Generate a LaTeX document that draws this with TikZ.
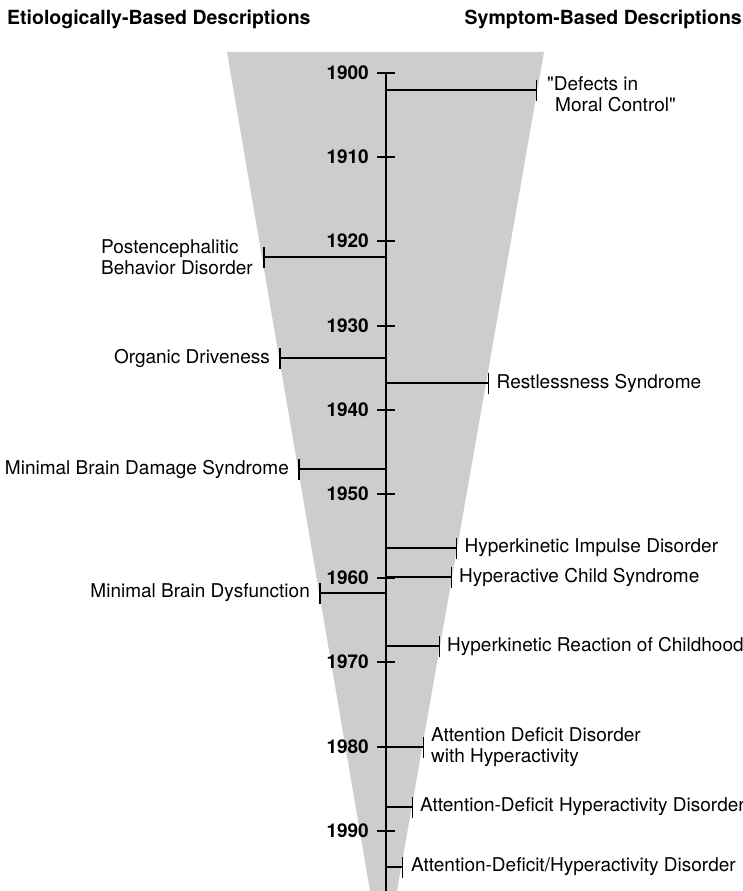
\documentclass[tikz,border=0pt]{standalone}
\usepackage{fontspec}
\setmainfont{TeX Gyre Heros}
\usetikzlibrary{positioning,arrows.meta}
\definecolor{funnelgray}{RGB}{205,205,205}
\tikzset{
  evt/.style={line width=2pt,-{Bar[width=21pt,line width=1.5pt]}},
  lbl/.style={inner sep=0pt,font=\fontsize{19}{21}\selectfont,align=left},
  yearlbl/.style={inner sep=0pt,anchor=east,font=\fontsize{19}{21}\selectfont\bfseries},
  hd/.style={inner sep=0pt,font=\fontsize{19.5}{22}\selectfont\bfseries}
}

\begin{document}
\begin{tikzpicture}[x=1pt,y=-1pt]
  \useasboundingbox (0,0) rectangle (743,891);
  % 漏斗形底色
  \fill[funnelgray] (227,52) -- (544,52) -- (397,891) -- (370,891) -- cycle;
  % 两侧标题
  \node[hd,anchor=base west] (hdleft) at (7,25) {Etiologically-Based Descriptions};
  \node[hd,anchor=base east] (hdright) at (742,25) {Symptom-Based Descriptions};
  % 时间轴
  \coordinate (top) at (386,73);
  \coordinate (bot) at (386,891);
  \draw[line width=2pt] (top) -- (bot);
  % 刻度与年份
  \foreach \yr/\y in {1900/73,1910/157,1920/241,1930/326,1940/410,
                      1950/494,1960/578,1970/662,1980/747,1990/831} {
    \draw[line width=2pt] (377,\y) -- (395,\y);
    \node[yearlbl] (y\yr) at (369,\y) {\yr};
  }
  % 右侧：症状描述
  \coordinate (s1902) at (537,90);
  \coordinate (s1937) at (489,383);
  \coordinate (s1957) at (457,548);
  \coordinate (s1960) at (452,577);
  \coordinate (s1968) at (440,646);
  \coordinate (s1980) at (424,747);
  \coordinate (s1987) at (413,807);
  \coordinate (s1994) at (403,867);
  \foreach \s in {s1902,s1937,s1957,s1960,s1968,s1980,s1987,s1994}
    \draw[evt] (top |- \s) -- (\s);
  \node[lbl,right=10pt of s1902,yshift=-4pt] (t1902) {\textquotedbl Defects in\\\hspace*{8pt}Moral Control\textquotedbl};
  \node[lbl,right=7.5pt of s1937] (t1937) {Restlessness Syndrome};
  \node[lbl,right=7.5pt of s1957] (t1957) {Hyperkinetic Impulse Disorder};
  \node[lbl,right=7pt of s1960] (t1960) {Hyperactive Child Syndrome};
  \node[lbl,right=7pt of s1968] (t1968) {Hyperkinetic Reaction of Childhood};
  \node[lbl,right=7pt of s1980] (t1980) {Attention Deficit Disorder\\with Hyperactivity};
  \node[lbl,right=7pt of s1987] (t1987) {Attention-Deficit Hyperactivity Disorder};
  \node[lbl,right=8pt of s1994] (t1994) {Attention-Deficit/Hyperactivity Disorder};
  % 左侧：病因描述
  \coordinate (e1922) at (263,257);
  \coordinate (e1934) at (279,358);
  \coordinate (e1947) at (298,469);
  \coordinate (e1962) at (319,593);
  \foreach \e in {e1922,e1934,e1947,e1962}
    \draw[evt] (top |- \e) -- (\e);
  \node[lbl,left=10pt of e1922] (t1922) {Postencephalitic\\Behavior Disorder};
  \node[lbl,left=9pt of e1934] (t1934) {Organic Driveness};
  \node[lbl,left=9pt of e1947] (t1947) {Minimal Brain Damage Syndrome};
  \node[lbl,left=9pt of e1962] (t1962) {Minimal Brain Dysfunction};
\end{tikzpicture}
\end{document}
